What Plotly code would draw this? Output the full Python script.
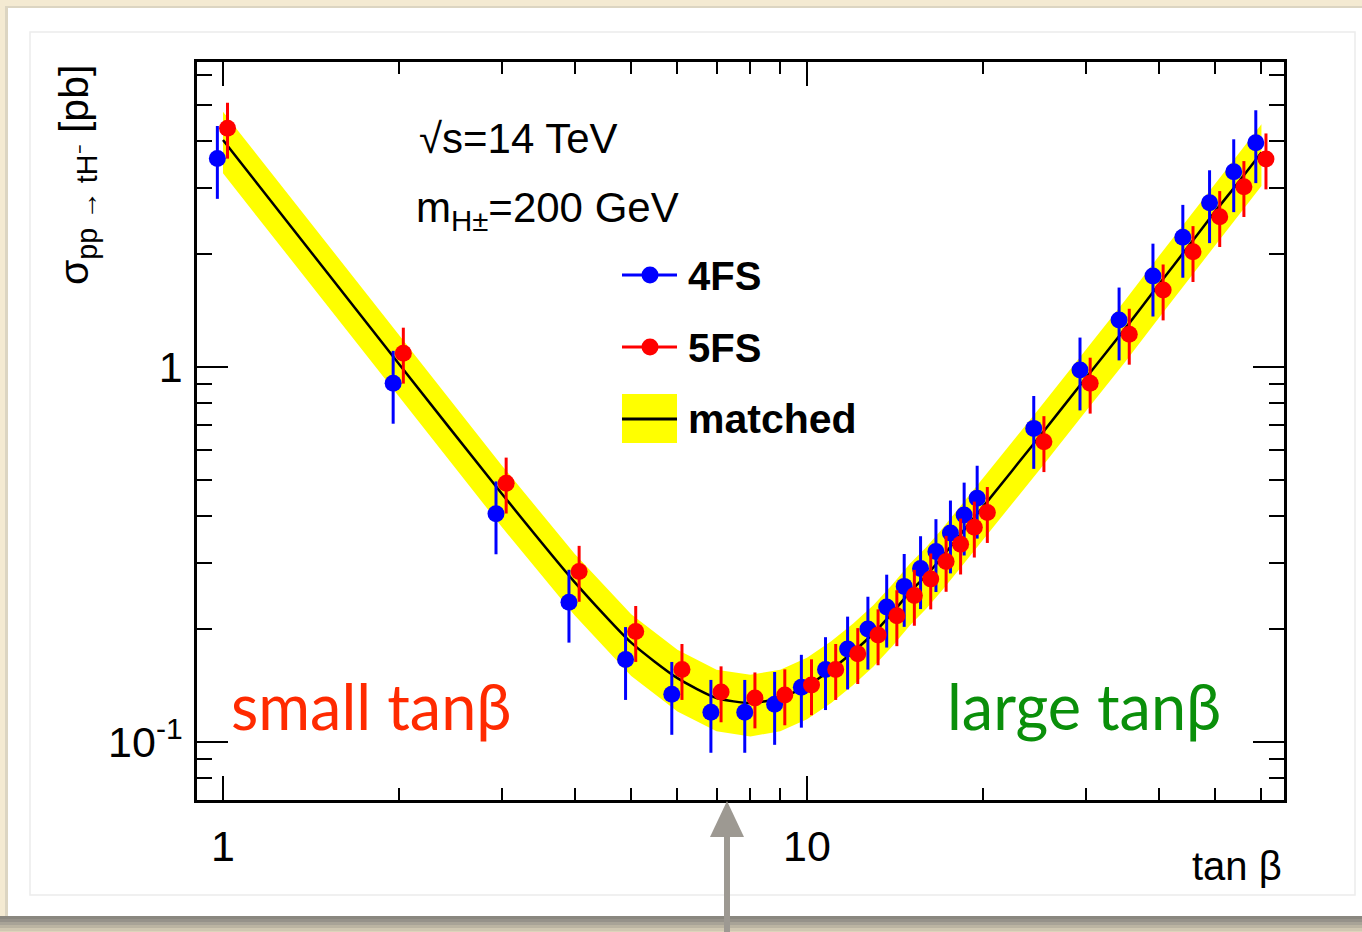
import plotly.graph_objects as go

# ---- data: charged Higgs production cross section vs tan(beta) ----
tan_beta = [1, 2, 3, 4, 5, 6, 7, 8, 9, 10, 11, 12, 13, 14, 15, 16, 17, 18, 19, 20,
            25, 30, 35, 40, 45, 50, 55, 60]

sigma_4fs = [3.60, 0.905, 0.406, 0.236, 0.166, 0.134, 0.120, 0.120, 0.126, 0.140,
             0.156, 0.177, 0.200, 0.229, 0.260, 0.290, 0.322, 0.361, 0.403, 0.447,
             0.686, 0.982, 1.335, 1.748, 2.218, 2.743, 3.318, 3.965]

sigma_5fs = [4.33, 1.088, 0.490, 0.285, 0.197, 0.156, 0.136, 0.131, 0.1335, 0.142,
             0.156, 0.172, 0.193, 0.217, 0.246, 0.272, 0.303, 0.337, 0.374, 0.409,
             0.632, 0.905, 1.222, 1.604, 2.030, 2.517, 3.026, 3.586]

sigma_matched = [4.03, 1.02, 0.460, 0.267, 0.184, 0.148, 0.131, 0.127, 0.131, 0.141,
                 0.156, 0.174, 0.195, 0.221, 0.251, 0.278, 0.310, 0.346, 0.384, 0.423,
                 0.652, 0.933, 1.262, 1.656, 2.100, 2.600, 3.130, 3.730]

# relative uncertainties
rel_err_4fs = 0.22
rel_err_5fs = 0.17
band_rel_up = 0.19
band_rel_dn = 0.185

# axis ticks
x_tickvals = [1, 10]
x_ticktext = ["1", "10"]
x_minor_vals = [2, 3, 4, 5, 6, 7, 8, 9, 20, 30, 40, 50, 60]
y_tickvals = [0.1, 1]
y_ticktext = ["10<sup>-1</sup>", "1"]
y_minor_vals = [0.08, 0.09, 0.2, 0.3, 0.4, 0.5, 0.6, 0.7, 0.8, 0.9, 2, 3, 4, 5, 6]

# ---- page geometry (pixels) ----
W, H = 1362, 932
PL, PR, PT, PB = 197, 1284, 62, 800  # plot frame


def px(x):
    return (x - PL) / (PR - PL)


def py(y):
    return (PB - y) / (PB - PT)


# small horizontal dodge so the two schemes do not overlap
dodge_4fs = 0.978
dodge_5fs = 1.018
x_4fs = [t * dodge_4fs for t in tan_beta]
x_5fs = [t * dodge_5fs for t in tan_beta]

band_hi = [v * (1 + band_rel_up) for v in sigma_matched]
band_lo = [v * (1 - band_rel_dn) for v in sigma_matched]

BLUE = "#0000ff"
RED = "#ff0000"
YELLOW = "#ffff00"

fig = go.Figure()

# matched uncertainty band
fig.add_trace(go.Scatter(x=tan_beta, y=band_lo, mode="lines", line=dict(width=0),
                         hoverinfo="skip", showlegend=False))
fig.add_trace(go.Scatter(x=tan_beta, y=band_hi, mode="lines", line=dict(width=0),
                         fill="tonexty", fillcolor=YELLOW, hoverinfo="skip",
                         showlegend=False))
# matched central curve
fig.add_trace(go.Scatter(x=tan_beta, y=sigma_matched, mode="lines",
                         line=dict(color="black", width=2.5, shape="spline", smoothing=0.6),
                         name="matched", showlegend=False))
# 4FS points
fig.add_trace(go.Scatter(
    x=x_4fs, y=sigma_4fs, mode="markers", name="4FS", showlegend=False,
    marker=dict(color=BLUE, size=17, line=dict(width=0)),
    error_y=dict(type="data", array=[v * rel_err_4fs for v in sigma_4fs],
                 color=BLUE, thickness=3, width=0)))
# 5FS points
fig.add_trace(go.Scatter(
    x=x_5fs, y=sigma_5fs, mode="markers", name="5FS", showlegend=False,
    marker=dict(color=RED, size=17, line=dict(width=0)),
    error_y=dict(type="data", array=[v * rel_err_5fs for v in sigma_5fs],
                 color=RED, thickness=3, width=0)))

FONT = "Liberation Sans, Arial, Helvetica, sans-serif"
HUMANIST = "Lato, Open Sans, sans-serif"

shapes = []
# card, inner frame and shadow
shapes.append(dict(type="rect", xref="paper", yref="paper", layer="below",
                   x0=px(5), x1=px(1364), y0=py(919), y1=py(6),
                   fillcolor="#dcd5c2", line=dict(width=0)))
shapes.append(dict(type="rect", xref="paper", yref="paper", layer="below",
                   x0=px(8), x1=px(1364), y0=py(916), y1=py(8),
                   fillcolor="white", line=dict(width=0)))
shapes.append(dict(type="rect", xref="paper", yref="paper", layer="below",
                   x0=px(30), x1=px(1355), y0=py(895), y1=py(32),
                   fillcolor="rgba(0,0,0,0)", line=dict(color="#ececec", width=1.5)))
shadow = [("#8a877f", 916, 919), ("#96928a", 919, 922), ("#a8a397", 922, 925),
          ("#bbb4a2", 925, 928), ("#cfc7b1", 928, 931), ("#ddd4bb", 931, 934)]
for col, y0, y1 in shadow:
    shapes.append(dict(type="rect", xref="paper", yref="paper", layer="below",
                       x0=px(0), x1=px(1362), y0=py(y1), y1=py(y0),
                       fillcolor=col, line=dict(width=0)))

# legend glyphs
for yc, col in [(275, BLUE), (347, RED)]:
    shapes.append(dict(type="line", xref="paper", yref="paper",
                       x0=px(622), x1=px(677), y0=py(yc), y1=py(yc),
                       line=dict(color=col, width=3)))
    shapes.append(dict(type="circle", xref="paper", yref="paper",
                       x0=px(641.5), x1=px(658.5), y0=py(yc + 8.5), y1=py(yc - 8.5),
                       fillcolor=col, line=dict(width=0)))
shapes.append(dict(type="rect", xref="paper", yref="paper",
                   x0=px(622), x1=px(677), y0=py(443), y1=py(394),
                   fillcolor=YELLOW, line=dict(width=0)))
shapes.append(dict(type="line", xref="paper", yref="paper",
                   x0=px(622), x1=px(677), y0=py(419), y1=py(419),
                   line=dict(color="black", width=3)))

# grey pointer arrow under the minimum
ARROW = "#9d9992"
shapes.append(dict(type="line", xref="paper", yref="paper",
                   x0=px(727), x1=px(727), y0=py(835), y1=py(940),
                   line=dict(color=ARROW, width=6)))
shapes.append(dict(type="path", xref="paper", yref="paper",
                   path="M {:.5f} {:.5f} L {:.5f} {:.5f} L {:.5f} {:.5f} Z".format(
                       px(727), py(801), px(710), py(837), px(744), py(837)),
                   fillcolor=ARROW, line=dict(width=0)))

annotations = []


def text(x, y, s, size, color="black", family=FONT, xanchor="left", angle=0):
    annotations.append(dict(xref="paper", yref="paper", x=px(x), y=py(y), text=s,
                            showarrow=False, xanchor=xanchor, yanchor="middle",
                            textangle=angle,
                            font=dict(family=family, size=size, color=color)))


text(417, 138, "√s=14 TeV", 42)
text(414, 210, "m<sub>H±</sub>=200 GeV", 42)
text(686, 276, "<b>4FS</b>", 40)
text(686, 348, "<b>5FS</b>", 40)
text(686, 419, "<b>matched</b>", 41)
text(229, 705, "small tanβ", 63, color="#ff2a00", family=HUMANIST)
text(945, 705, "large tanβ", 63, color="#0a8f0a", family=HUMANIST)
text(1284, 866, "tan β", 40, xanchor="right")
text(77, 175, "σ<sub>pp → tH⁻</sub> [pb]", 41, xanchor="center", angle=-90)

axis_common = dict(
    type="log", showgrid=False, zeroline=False, showline=True, linecolor="black",
    linewidth=2.5, mirror="allticks", ticks="inside", tickwidth=2, tickcolor="black",
    tickfont=dict(family=FONT, size=43, color="black"),
)

fig.update_layout(
    width=W, height=H,
    margin=dict(l=PL, r=W - PR, t=PT, b=H - PB, pad=0),
    paper_bgcolor="#f4ead2",
    plot_bgcolor="white",
    showlegend=False,
    shapes=shapes,
    annotations=annotations,
    xaxis=dict(axis_common,
               range=[(PL - 223) / 584, (PR - 223) / 584],
               tickmode="array", tickvals=x_tickvals, ticktext=x_ticktext,
               ticklen=24, ticklabelstandoff=7,
               minor=dict(tickmode="array", tickvals=x_minor_vals, ticks="inside",
                          ticklen=12, tickwidth=2, tickcolor="black", showgrid=False)),
    yaxis=dict(axis_common,
               range=[(367 - PB) / 375, (367 - PT) / 375],
               tickmode="array", tickvals=y_tickvals, ticktext=y_ticktext,
               ticklen=31, ticklabelstandoff=3,
               minor=dict(tickmode="array", tickvals=y_minor_vals, ticks="inside",
                          ticklen=15, tickwidth=2, tickcolor="black", showgrid=False)),
)

fig.write_html("out.html")
